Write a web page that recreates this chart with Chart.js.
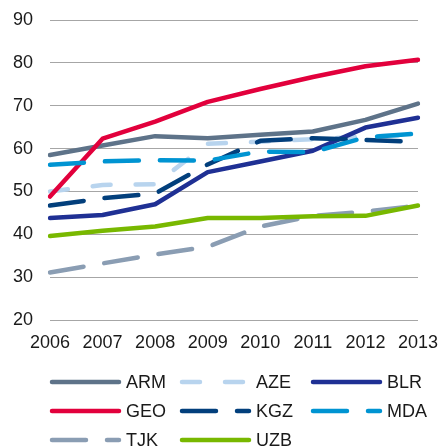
<!DOCTYPE html>
<html>
<head>
<meta charset="utf-8">
<script src="https://cdn.jsdelivr.net/npm/chart.js@4/dist/chart.umd.min.js"></script>
<style>
  html, body { margin: 0; padding: 0; background: #fff; }
  #wrap { width: 441px; height: 448px; position: relative; }
</style>
</head>
<body>
<div id="wrap"><canvas id="chart"></canvas></div>
<script>
var years = ['2006', '2007', '2008', '2009', '2010', '2011', '2012', '2013'];
var seriesNames = ['ARM', 'AZE', 'BLR', 'GEO', 'KGZ', 'MDA', 'TJK', 'UZB'];

var arm = [58.5, 60.7, 62.9, 62.4, 63.2, 64.0, 66.7, 70.5];
var aze = [50.0, 51.5, 51.7, 61.1, 61.6, 62.2, 62.8, 63.2];
var blr = [43.8, 44.5, 47.0, 54.5, 57.0, 59.5, 64.9, 67.2];
var geo = [48.8, 62.3, 66.3, 70.9, 73.9, 76.7, 79.2, 80.7];
var kgz = [46.7, 48.4, 49.5, 56.3, 61.8, 62.4, 62.0, 61.6];
var mda = [56.2, 57.0, 57.3, 57.2, 59.3, 59.2, 62.6, 63.5];
var tjk = [31.1, 33.2, 35.3, 37.1, 41.8, 44.3, 45.3, 46.7];
var uzb = [39.6, 40.8, 41.8, 43.8, 43.8, 44.2, 44.3, 46.7];

var yTicks = [20, 30, 40, 50, 60, 70, 80, 90];

var colors = ['#5e7389', '#b8d4ee', '#1f3094', '#e2003c', '#023f7c', '#0094d2', '#8a9db3', '#78b800'];
var dashes = [[], [18, 25], [], [], [34, 21], [34, 21], [34, 21], []];
var values = [arm, aze, blr, geo, kgz, mda, tjk, uzb];

var FONT = 'Liberation Sans, Arial, sans-serif';

var datasets = seriesNames.map(function (name, i) {
    return {
        label: name,
        data: values[i],
        borderColor: colors[i],
        backgroundColor: colors[i],
        borderWidth: 4.5,
        borderDash: dashes[i],
        borderCapStyle: 'round',
        borderJoinStyle: 'round',
        pointRadius: 0,
        tension: 0,
        fill: false,
        order: seriesNames.length - i
    };
});

// legend drawn by hand: 3 columns, like the original
var legendPlugin = {
    id: 'gridLegend',
    afterDraw: function (chart) {
        var ctx = chart.ctx;
        var cols = [50, 180, 311];
        var rows = [382, 411, 440];
        chart.data.datasets.forEach(function (ds, i) {
            var x = cols[i % 3];
            var y = rows[Math.floor(i / 3)];
            ctx.save();
            ctx.strokeStyle = ds.borderColor;
            ctx.lineWidth = ds.borderWidth;
            ctx.lineCap = 'round';
            ctx.setLineDash(ds.borderDash);
            ctx.beginPath();
            ctx.moveTo(x + 2, y);
            ctx.lineTo(x + 69, y);
            ctx.stroke();
            ctx.restore();
            ctx.save();
            ctx.fillStyle = '#1a1a1a';
            ctx.font = '18px ' + FONT;
            ctx.textBaseline = 'middle';
            ctx.fillText(ds.label, x + 76, y + 1);
            ctx.restore();
        });
    }
};

new Chart(document.getElementById('chart'), {
    type: 'line',
    data: { labels: years, datasets: datasets },
    plugins: [legendPlugin],
    options: {
        responsive: true,
        maintainAspectRatio: false,
        animation: false,
        layout: { padding: { top: 20, right: 23, left: 0, bottom: 0 } },
        plugins: {
            legend: { display: false },
            tooltip: { enabled: false }
        },
        scales: {
            x: {
                offset: false,
                grid: { display: false, drawTicks: false },
                border: { display: false },
                ticks: {
                    color: '#1a1a1a',
                    font: { family: FONT, size: 18 },
                    padding: 12,
                    maxRotation: 0,
                    autoSkip: false
                },
                afterFit: function (scale) {
                    scale.height = 128;
                    scale.paddingLeft = 0;
                    scale.paddingRight = 0;
                }
            },
            y: {
                min: 20,
                max: 90,
                afterBuildTicks: function (scale) {
                    scale.ticks = yTicks.map(function (v) { return { value: v }; });
                },
                grid: { color: '#a6a6a6', lineWidth: 1, drawTicks: false },
                border: { display: false },
                ticks: {
                    color: '#1a1a1a',
                    font: { family: FONT, size: 18 },
                    padding: 17
                },
                afterFit: function (scale) {
                    scale.width = 50;
                    scale.paddingTop = 0;
                    scale.paddingBottom = 0;
                }
            }
        }
    }
});
</script>
</body>
</html>
